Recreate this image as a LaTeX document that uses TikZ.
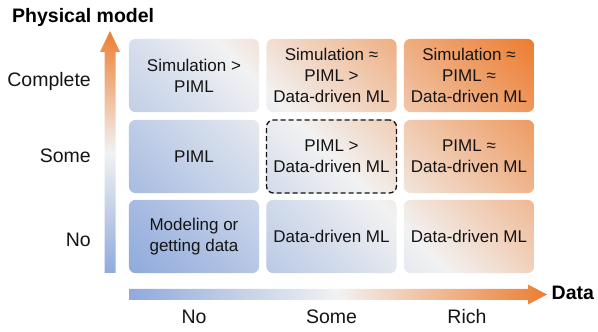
\documentclass[tikz,border=0pt]{standalone}
\usepackage{fontspec}
\setmainfont{Liberation Sans}
\usetikzlibrary{backgrounds}
\definecolor{cblue}{RGB}{143,170,220}
\definecolor{cmid}{RGB}{242,242,242}
\definecolor{corange}{RGB}{237,125,49}
\definecolor{ctext}{RGB}{20,20,20}
\pgfdeclarehorizontalshading{gridshade}{100bp}{color(0bp)=(cblue); color(14.64bp)=(cblue); color(50bp)=(cmid); color(85.36bp)=(corange); color(100bp)=(corange)}
\tikzset{
  cell/.style={minimum width=130pt, minimum height=73pt, align=center,
    font=\fontsize{17}{21}\selectfont, inner sep=0pt, text=ctext},
  dashcell/.style={cell, draw=ctext, line width=1.3pt, dash pattern=on 5pt off 3pt, rounded corners=7pt},
  axislabel/.style={font=\fontsize{19.5}{23}\selectfont, inner sep=0pt, text=ctext},
  axistitle/.style={font=\fontsize{19.5}{23}\selectfont\bfseries, inner sep=0pt, text=black},
}
\begin{document}
\begin{tikzpicture}[x=1pt,y=1pt]
\useasboundingbox (0,0) rectangle (598,332);
% cells
\node[cell] (b11) at (194,256.5) {Simulation >\\PIML};
\node[cell] (b21) at (331.5,256.5) {Simulation ≈\\PIML >\\Data-driven ML};
\node[cell] (b31) at (469,256.5) {Simulation ≈\\PIML ≈\\Data-driven ML};
\node[cell] (b12) at (194,175.5) {PIML};
\node[dashcell] (b22) at (331.5,175.5) {PIML >\\Data-driven ML};
\node[cell] (b32) at (469,175.5) {PIML ≈\\Data-driven ML};
\node[cell] (b13) at (194,95.5) {Modeling or\\getting data};
\node[cell] (b23) at (331.5,95.5) {Data-driven ML};
\node[cell] (b33) at (469,95.5) {Data-driven ML};
\begin{pgfonlayer}{background}
  \begin{scope}
    \clip[rounded corners=7pt]
      (b11.south west) rectangle (b11.north east)
      (b21.south west) rectangle (b21.north east)
      (b31.south west) rectangle (b31.north east)
      (b12.south west) rectangle (b12.north east)
      (b22.south west) rectangle (b22.north east)
      (b32.south west) rectangle (b32.north east)
      (b13.south west) rectangle (b13.north east)
      (b23.south west) rectangle (b23.north east)
      (b33.south west) rectangle (b33.north east);
    \shade[shading=gridshade, shading angle=45] (b13.south west) rectangle (b31.north east);
  \end{scope}
\end{pgfonlayer}
% axes arrows
\shade[left color=cblue, right color=corange, middle color=cmid]
  (129,32) -- (528,32) -- (528,27.5) -- (547,37.5) -- (528,47.5) -- (528,43) -- (129,43) -- cycle;
\shade[bottom color=cblue, top color=corange, middle color=cmid]
  (104.5,59) -- (104.5,280) -- (100,280) -- (110,301) -- (120,280) -- (115.5,280) -- (115.5,59) -- cycle;
% axis titles
\node[axistitle, anchor=base west] (ytitle) at (12,309.5) {Physical model};
\node[axistitle, anchor=base west] (xtitle) at (551.5,32) {Data};
% y labels
\node[axislabel, anchor=base east] (yc) at (91,245) {Complete};
\node[axislabel, anchor=base east] (ys) at (91,169) {Some};
\node[axislabel, anchor=base east] (yn) at (91,85) {No};
% x labels
\node[axislabel, anchor=base] (xn) at (194,8) {No};
\node[axislabel, anchor=base] (xs) at (331.5,8) {Some};
\node[axislabel, anchor=base] (xr) at (467,8) {Rich};
\end{tikzpicture}
\end{document}
